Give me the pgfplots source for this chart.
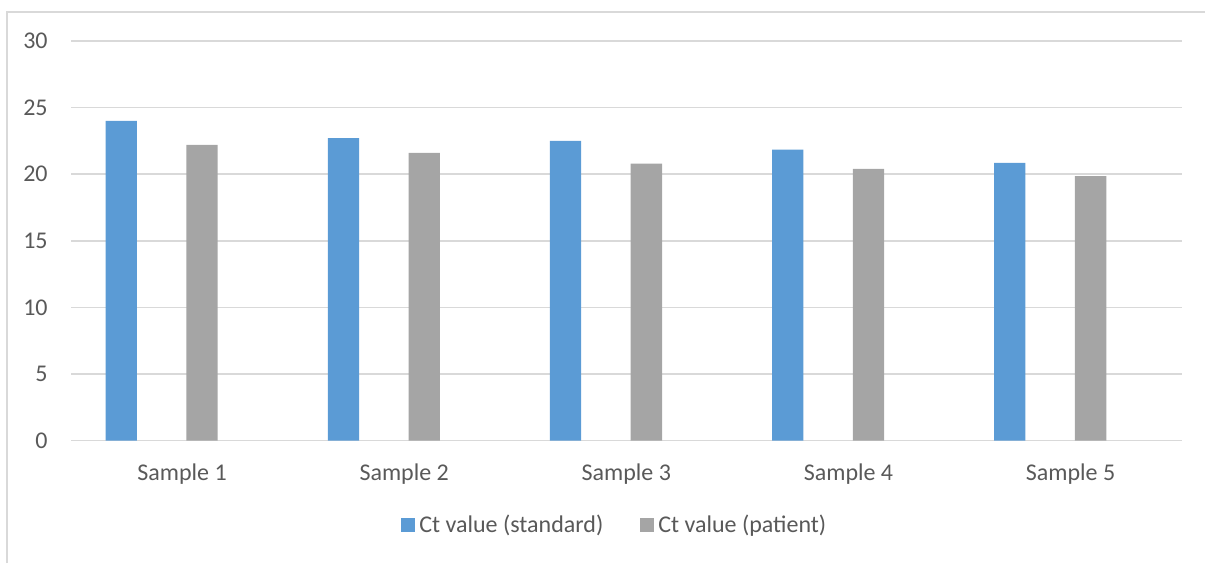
\documentclass[border=0pt]{standalone}
\usepackage{fontspec}
\setmainfont{Carlito}
\usepackage{pgfplots}
\pgfplotsset{compat=1.18}
\definecolor{stdblue}{HTML}{5B9BD5}
\definecolor{patgray}{HTML}{A5A5A5}
\definecolor{gridgray}{HTML}{D9D9D9}
\definecolor{txtgray}{HTML}{595959}
\begin{document}
\begin{tikzpicture}
% page frame
\useasboundingbox (0,0) rectangle (602.5pt,281.5pt);
\draw[gridgray, line width=0.8pt] (3.5pt,0) -- (3.5pt,275.5pt) -- (602.5pt,275.5pt);
\begin{axis}[
  at={(35.5pt,61.25pt)}, anchor=south west,
  scale only axis,
  width=555.35pt, height=199.75pt,
  xmin=-0.5, xmax=4.5,
  ymin=0, ymax=30,
  ytick={0,5,...,30},
  xtick={0,1,2,3,4},
  xticklabels={Sample 1,Sample 2,Sample 3,Sample 4,Sample 5},
  major tick length=0pt,
  axis line style={draw=none},
  ymajorgrids,
  grid style={gridgray, line width=0.75pt},
  /pgf/number format/assume math mode=true,
  tick label style={font=\fontsize{12}{14}\selectfont, text=txtgray},
  xticklabel style={anchor=base, yshift=-19.75pt},
  yticklabel style={anchor=east, inner sep=0pt, xshift=-11.5pt},
  legend columns=2,
  legend style={at={(0.4905,-0.2115)}, anchor=center, draw=none,
    font=\fontsize{12}{14}\selectfont, text=txtgray,
    /tikz/every even column/.append style={column sep=16.5pt},
    inner sep=0pt},
  legend image code/.code={\fill[#1] (0pt,-3.5pt) rectangle (7pt,3.5pt);},
]
\addplot[ybar, bar width=15.65pt, bar shift=-30.4pt, fill=stdblue, draw=none]
  coordinates {(0,24.0) (1,22.7) (2,22.5) (3,21.85) (4,20.85)};
\addlegendentry{Ct value (standard)}
\addplot[ybar, bar width=15.65pt, bar shift=10pt, fill=patgray, draw=none]
  coordinates {(0,22.2) (1,21.6) (2,20.8) (3,20.4) (4,19.85)};
\addlegendentry{Ct value (patient)}
\end{axis}
\end{tikzpicture}
\end{document}
